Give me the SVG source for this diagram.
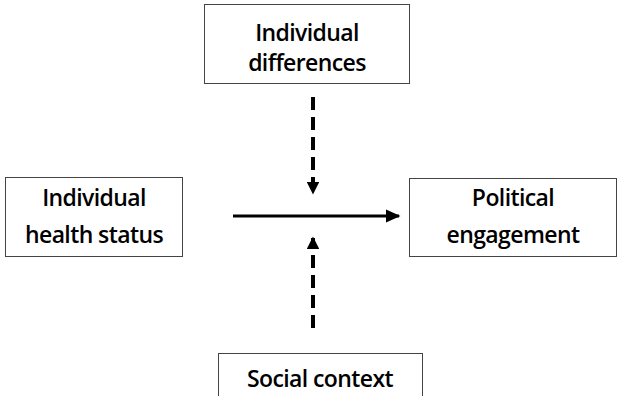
<svg xmlns="http://www.w3.org/2000/svg" width="623" height="396" viewBox="0 0 623 396">
<style>
.box{fill:#fff;stroke:#444;stroke-width:1}
.t{font-family:"Open Sans","Liberation Sans",sans-serif;font-size:23px;font-weight:600;letter-spacing:-0.6px;fill:#000;text-anchor:middle}
.dash{stroke:#000;stroke-width:4;stroke-dasharray:13 7;fill:none}
.solid{stroke:#000;stroke-width:3;fill:none}
</style>
<defs>
<marker id="ah" markerWidth="5" markerHeight="4.4" refX="4.5" refY="2.2" orient="auto" markerUnits="strokeWidth" viewBox="0 0 5 4.4"><path d="M0,0 L5,2.2 L0,4.4 z" fill="#000"/></marker>
<marker id="ah2" markerWidth="3.2" markerHeight="3.2" refX="2.8" refY="1.6" orient="auto" markerUnits="strokeWidth" viewBox="0 0 3.2 3.2"><path d="M0,0 L3.2,1.6 L0,3.2 z" fill="#000"/></marker>
</defs>
<rect width="623" height="396" fill="#fff"/>
<g id="n-diff"><rect class="box" x="204.5" y="4.5" width="205" height="79"/><text class="t" x="307" y="41">Individual</text><text class="t" x="307" y="71">differences</text></g>
<g id="n-health"><rect class="box" x="5.5" y="177.5" width="177" height="79"/><text class="t" x="94" y="206">Individual</text><text class="t" x="94" y="243">health status</text></g>
<g id="n-pol"><rect class="box" x="409.5" y="178.5" width="207" height="78"/><text class="t" x="513" y="206">Political</text><text class="t" x="513" y="243">engagement</text></g>
<g id="n-social"><rect class="box" x="218.5" y="353.5" width="204" height="50"/><text class="t" x="320" y="387">Social context</text></g>
<g id="connectors">
<path class="dash" d="M313,97 V193" marker-end="url(#ah2)"/>
<path class="dash" d="M313,328 V238" marker-end="url(#ah2)"/>
<path class="solid" d="M233,216 H399" marker-end="url(#ah)"/>
</g>
</svg>
